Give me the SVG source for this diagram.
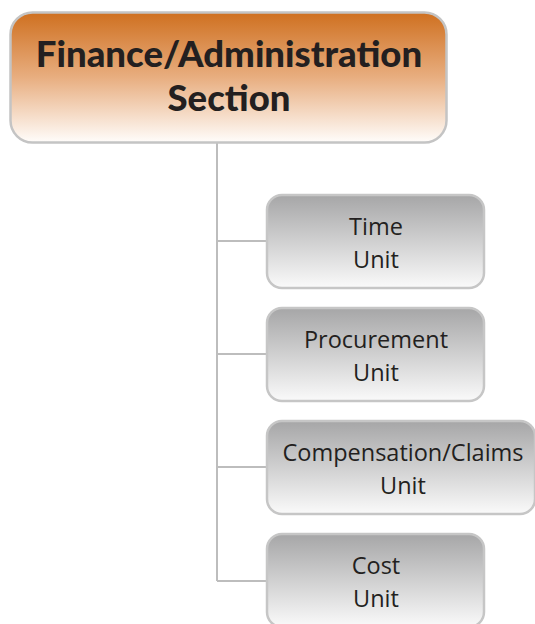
<svg xmlns="http://www.w3.org/2000/svg" width="535" height="624" viewBox="0 0 535 624">
<defs>
<linearGradient id="gOrange" x1="0" y1="0" x2="0" y2="1">
<stop offset="0" stop-color="#cf7020"/>
<stop offset="0.5" stop-color="#e8ae80"/>
<stop offset="1" stop-color="#fffdfb"/>
</linearGradient>
<linearGradient id="gGray" x1="0" y1="0" x2="0" y2="1">
<stop offset="0" stop-color="#a6a6a7"/>
<stop offset="1" stop-color="#fafafa"/>
</linearGradient>
<style>
.top{fill:url(#gOrange);stroke:#c4c4c4;stroke-width:2.5}
.unit{fill:url(#gGray);stroke:#c6c6c6;stroke-width:2.5}
.conn{fill:none;stroke:#bdbdbd;stroke-width:2}
.tt{font-family:"Lato","Open Sans",sans-serif;font-weight:900;font-size:36.5px;fill:#231f20;text-anchor:middle}
.ut{font-family:"Open Sans","Noto Sans",sans-serif;font-size:23.5px;fill:#231f20;text-anchor:middle}
</style>
</defs>
<g id="connectors">
<path class="conn" d="M217 143 V581 M217 241 H267 M217 354 H267 M217 467 H267 M217 581 H267"/>
</g>
<g id="finance-admin-section">
<rect class="top" x="10.5" y="12.5" width="436" height="130" rx="22"/>
<text class="tt" x="229" y="67">Finance/Administration</text>
<text class="tt" x="229" y="111">Section</text>
</g>
<g id="time-unit">
<rect class="unit" x="267" y="195" width="217" height="93" rx="15"/>
<text class="ut" x="376" y="235">Time</text>
<text class="ut" x="376" y="268">Unit</text>
</g>
<g id="procurement-unit">
<rect class="unit" x="267" y="308" width="217" height="93" rx="15"/>
<text class="ut" x="376" y="348">Procurement</text>
<text class="ut" x="376" y="381">Unit</text>
</g>
<g id="compensation-claims-unit">
<rect class="unit" x="267" y="421" width="268" height="93" rx="15"/>
<text class="ut" x="403" y="461">Compensation/Claims</text>
<text class="ut" x="403" y="494">Unit</text>
</g>
<g id="cost-unit">
<rect class="unit" x="267" y="534" width="217" height="93" rx="15"/>
<text class="ut" x="376" y="574">Cost</text>
<text class="ut" x="376" y="607">Unit</text>
</g>
</svg>
